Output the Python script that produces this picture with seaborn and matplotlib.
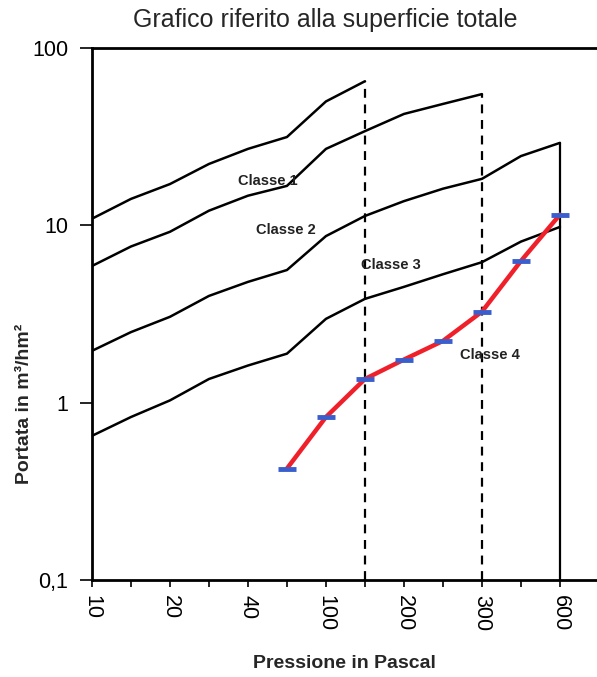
import numpy as np
import pandas as pd
import matplotlib
matplotlib.use("Agg")
import matplotlib.pyplot as plt
import seaborn as sns
from matplotlib.ticker import FixedLocator, FixedFormatter, NullLocator

# pressure steps (equally spaced on the chart), labels only on every other one
pressioni = ["10", "15", "20", "30", "40", "70", "100", "150", "200", "250", "300", "450", "600"]
tick_labels = ["10", "", "20", "", "40", "", "100", "", "200", "", "300", "", "600"]

classe1 = [10.9, 14.1, 17.1, 22.2, 27.0, 31.5, 50.0, 65.0]
classe2 = [5.9, 7.6, 9.2, 12.1, 14.7, 16.7, 27.0, 34.0, 42.5, 48.4, 55.0]
classe3 = [1.96, 2.5, 3.05, 4.0, 4.8, 5.6, 8.7, 11.3, 13.7, 16.1, 18.3, 24.6, 29.2]
classe4 = [0.65, 0.83, 1.03, 1.36, 1.62, 1.89, 2.97, 3.85, 4.5, 5.3, 6.2, 8.1, 9.8]

# measured curve (starts at the 6th step)
misura_start = 5
misura = [0.425, 0.83, 1.36, 1.75, 2.23, 3.26, 6.3, 11.5]

rows = []
for nome, vals in [("Classe 1", classe1), ("Classe 2", classe2),
                   ("Classe 3", classe3), ("Classe 4", classe4)]:
    for i, v in enumerate(vals):
        rows.append({"classe": nome, "pos": i, "portata": v})
df = pd.DataFrame(rows)
df_mis = pd.DataFrame({"pos": np.arange(misura_start, misura_start + len(misura)),
                       "portata": misura})

sns.set_style("ticks")
plt.rcParams["font.family"] = ["Liberation Sans", "DejaVu Sans"]

fig = plt.figure(figsize=(5.97, 6.77), dpi=100)
ax = fig.add_axes([0.154, 0.1433, 0.846, 0.7857])

sns.lineplot(data=df, x="pos", y="portata", units="classe", estimator=None,
             color="black", lw=1.8, ax=ax, legend=False)

# vertical limits of the classes
ax.vlines(len(classe1) - 1, 0.1, classe1[-1], colors="black", linestyles=(0, (4, 3)), lw=1.6)
ax.vlines(len(classe2) - 1, 0.1, classe2[-1], colors="black", linestyles=(0, (4, 3)), lw=1.6)
ax.vlines(len(classe3) - 1, 0.1, classe3[-1], colors="black", lw=1.6)

sns.lineplot(data=df_mis, x="pos", y="portata", color="#f0202a", lw=3.2,
             marker="_", markersize=13, markeredgecolor="#3a5fcd",
             markeredgewidth=3.5, ax=ax)

ax.set_yscale("log")
ax.set_ylim(0.1, 100)
ax.set_xlim(0, 12.95)

ax.yaxis.set_major_locator(FixedLocator([0.1, 1, 10, 100]))
ax.yaxis.set_major_formatter(FixedFormatter(["0,1", "1", "10", "100"]))
ax.yaxis.set_minor_locator(NullLocator())
ax.xaxis.set_major_locator(FixedLocator(list(range(len(pressioni)))))
ax.xaxis.set_major_formatter(FixedFormatter(tick_labels))

ax.tick_params(axis="both", direction="out", width=1.2, labelsize=15.5, colors="black")
ax.tick_params(axis="y", length=9, pad=8)
ax.tick_params(axis="x", length=5, labelrotation=270, pad=6)
for lab in ax.get_xticklabels():
    lab.set_va("top")
    lab.set_ha("center")

for s in ["left", "bottom", "top"]:
    ax.spines[s].set_linewidth(2)
    ax.spines[s].set_color("black")
ax.spines["right"].set_visible(False)

txt = dict(fontsize=10.5, fontweight="bold", color="#222222", ha="center", va="center")
ax.text(4.5, 17.8, "Classe 1", **txt)
ax.text(4.97, 9.4, "Classe 2", **txt)
ax.text(7.67, 6.0, "Classe 3", **txt)
ax.text(10.2, 1.86, "Classe 4", **txt)

ax.set_xlabel("Pressione in Pascal", fontsize=14, fontweight="bold")
ax.xaxis.set_label_coords(0.5, -0.141)
ax.set_ylabel("Portata in m³/hm²", fontsize=14, fontweight="bold")
ax.yaxis.set_label_coords(-0.117, 0.331)
fig.text(0.544, 0.97, "Grafico riferito alla superficie totale", fontsize=18,
         ha="center", va="center")

fig.savefig("out.png", dpi=100)
